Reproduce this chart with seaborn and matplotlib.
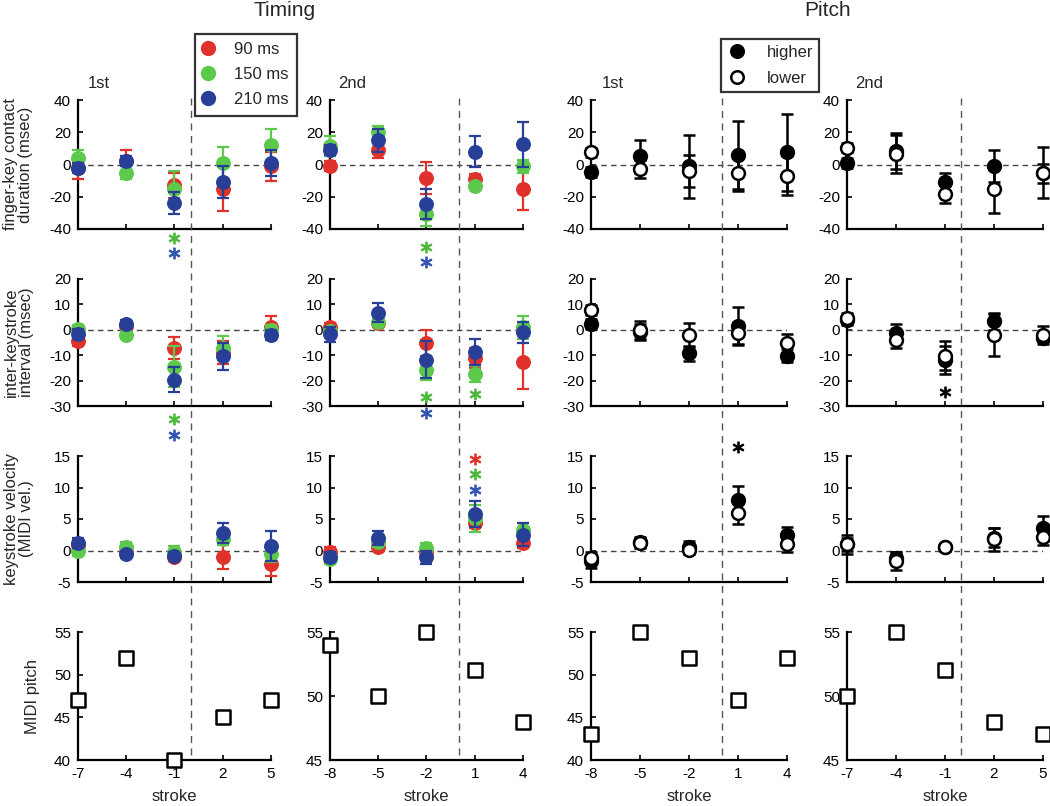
import matplotlib
matplotlib.use("Agg")
import matplotlib.pyplot as plt
import seaborn as sns
from matplotlib.lines import Line2D
from matplotlib.transforms import blended_transform_factory

# ---------------- data ----------------
strokes_t1 = [-7, -4, -1, 2, 5]
strokes_t2 = [-8, -5, -2, 1, 4]
strokes_p1 = [-8, -5, -2, 1, 4]
strokes_p2 = [-7, -4, -1, 2, 5]

timing_conditions = ["90 ms", "150 ms", "210 ms"]
pitch_conditions = ["higher", "lower"]

# finger-key contact duration (msec)
dur_t1 = {"90 ms": [-2, 2, -13, -15, -1], "150 ms": [4, -5, -15, 1, 12], "210 ms": [-2, 2, -24, -11, 1]}
dur_t1_err = {"90 ms": [7, 7, 8, 14, 9], "150 ms": [5, 4, 11, 10, 10], "210 ms": [3, 3, 7, 10, 8]}
dur_t2 = {"90 ms": [-1, 9, -8.5, -9, -15], "150 ms": [11.5, 20, -31, -13.5, -1], "210 ms": [9, 15, -24.5, 8, 12.5]}
dur_t2_err = {"90 ms": [3, 5, 10, 3, 13], "150 ms": [6, 4, 7, 2, 4], "210 ms": [3, 7, 9, 9.5, 14]}
dur_p1 = {"higher": [-4.5, 5, -1, 6, 7.5], "lower": [7.5, -3, -4, -5.5, -7]}
dur_p1_err = {"higher": [3, 10, 19.5, 21, 24], "lower": [3, 5.5, 10, 11, 12]}
dur_p2 = {"higher": [1, 8.5, -11, -1, -5], "lower": [10.5, 6.5, -18, -15, -5.5]}
dur_p2_err = {"higher": [3, 11, 6, 10, 16], "lower": [3, 12, 6, 15, 6]}

# inter-keystroke interval (msec)
ioi_t1 = {"90 ms": [-4.5, 1.5, -7, -9, 1], "150 ms": [0.5, -2.2, -14.5, -7.2, 0], "210 ms": [-1.6, 2.3, -19.6, -10.5, -2.2]}
ioi_t1_err = {"90 ms": [2, 1.5, 4.3, 4.5, 4.6], "150 ms": [1.5, 1.5, 8, 4.7, 2], "210 ms": [2, 1.5, 5, 5.5, 2]}
ioi_t2 = {"90 ms": [1, 2.8, -5.2, -11, -12.5], "150 ms": [-0.5, 3.2, -15.7, -17.4, 1], "210 ms": [-1.8, 6.8, -11.7, -8.8, -1]}
ioi_t2_err = {"90 ms": [1.5, 1.5, 5.2, 4, 11], "150 ms": [1.5, 1.5, 4, 3, 4.5], "210 ms": [3, 3.6, 7.2, 5, 4]}
ioi_p1 = {"higher": [2.3, -0.9, -9.2, 1.6, -10.2], "lower": [7.8, -0.2, -2, -1.4, -5.3]}
ioi_p1_err = {"higher": [2, 3, 3, 7.3, 2.6], "lower": [2, 3.5, 4.7, 4.4, 3.7]}
ioi_p2 = {"higher": [4, -1.4, -12, 3.3, -3.1], "lower": [4.6, -4, -10.2, -2.2, -2]}
ioi_p2_err = {"higher": [2, 3.6, 5.5, 3.3, 1.5], "lower": [2, 3, 5.6, 8.3, 3.6]}

# keystroke velocity (MIDI vel.)
vel_t1 = {"90 ms": [0.8, -0.3, -1.1, -1.1, -2.2], "150 ms": [0, 0.6, -0.2, 1.8, -0.5], "210 ms": [1.2, -0.6, -0.9, 2.8, 0.7]}
vel_t1_err = {"90 ms": [0.8, 0.8, 0.6, 1.9, 1.8], "150 ms": [0.8, 0.8, 0.9, 1.0, 1.4], "210 ms": [0.8, 0.6, 0.6, 1.6, 2.4]}
vel_t2 = {"90 ms": [-0.2, 0.5, -0.3, 4.3, 1.2], "150 ms": [-1.4, 1.4, 0.4, 5.1, 3.3], "210 ms": [-1.1, 2.0, -1.1, 5.8, 2.5]}
vel_t2_err = {"90 ms": [0.8, 0.6, 0.8, 0.8, 0.8], "150 ms": [0.8, 0.8, 0.8, 2.2, 1.0], "210 ms": [0.8, 1.1, 1.0, 2.1, 1.8]}
vel_p1 = {"higher": [-1.7, 1.3, 0.6, 8, 2.5], "lower": [-1.2, 1.2, 0.1, 5.9, 1.1]}
vel_p1_err = {"higher": [1, 0.8, 0.9, 2.2, 1.2], "lower": [1, 0.8, 0.6, 1.7, 1.4]}
vel_p2 = {"higher": [1, -1.2, 0.6, 2.0, 3.5], "lower": [1, -1.7, 0.5, 1.8, 2.1]}
vel_p2_err = {"higher": [1.5, 1, 0.5, 1.5, 2], "lower": [1, 1.4, 0.5, 1.8, 1.2]}

# MIDI pitch
pitch_t1 = [47, 52, 40, 45, 47]
pitch_t2 = [54, 50, 55, 52, 48]
pitch_p1 = [43, 55, 52, 47, 52]
pitch_p2 = [50, 55, 52, 48, 47]

# significance marks: (row, col, stroke, y, condition)
signif = [
    (0, 0, -1, -45.5, "150 ms"), (0, 0, -1, -55, "210 ms"),
    (0, 1, -2, -51, "150 ms"), (0, 1, -2, -60.5, "210 ms"),
    (1, 0, -1, -35, "150 ms"), (1, 0, -1, -41.5, "210 ms"),
    (1, 1, -2, -26.6, "150 ms"), (1, 1, -2, -32.6, "210 ms"),
    (1, 1, 1, -25.3, "150 ms"), (1, 3, -1, -24.6, "pitch"),
    (2, 1, 1, 14.5, "90 ms"), (2, 1, 1, 12.1, "150 ms"), (2, 1, 1, 9.6, "210 ms"),
    (2, 2, 1, 16.5, "pitch"),
]

row_labels = ["finger-key contact\nduration (msec)", "inter-keystroke\ninterval (msec)",
              "keystroke velocity\n(MIDI vel.)", "MIDI pitch"]
col_titles = ["1st", "2nd", "1st", "2nd"]

# ---------------- style ----------------
sns.set_theme(style="ticks")
plt.rcParams['font.family'] = ['Liberation Sans', 'DejaVu Sans']
plt.rcParams['axes.unicode_minus'] = False
plt.rcParams['axes.facecolor'] = 'none'

timing_colors = {"90 ms": "#E0322A", "150 ms": "#5DC94C", "210 ms": "#283F98"}
star_colors = {"90 ms": "#E0322A", "150 ms": "#4CB83C", "210 ms": "#3355B0", "pitch": "black"}

W, H = 1050, 806
fig = plt.figure(figsize=(W / 100, H / 100), dpi=100)

col_px = [(78, 271), (330, 523), (591, 787), (847, 1043)]
row_px = [(100, 229), (279, 406), (456, 582), (632, 760)]

strokes_cols = [strokes_t1, strokes_t2, strokes_p1, strokes_p2]
means = [[dur_t1, dur_t2, dur_p1, dur_p2],
         [ioi_t1, ioi_t2, ioi_p1, ioi_p2],
         [vel_t1, vel_t2, vel_p1, vel_p2]]
errs = [[dur_t1_err, dur_t2_err, dur_p1_err, dur_p2_err],
        [ioi_t1_err, ioi_t2_err, ioi_p1_err, ioi_p2_err],
        [vel_t1_err, vel_t2_err, vel_p1_err, vel_p2_err]]
pitches = [pitch_t1, pitch_t2, pitch_p1, pitch_p2]

ylims = [(-40, 40), (-30, 20), (-5, 15)]
yticks = [[-40, -20, 0, 20, 40], [-30, -20, -10, 0, 10, 20], [-5, 0, 5, 10, 15]]
pitch_lims = [(40, 55), (45, 55), (40, 55), (45, 55)]

axes = [[None] * 4 for _ in range(4)]
for r, (yt, yb) in enumerate(row_px):
    for c, (xl, xr) in enumerate(col_px):
        ax = fig.add_axes([xl / W, 1 - yb / H, (xr - xl) / W, (yb - yt) / H])
        axes[r][c] = ax
        strokes = strokes_cols[c]
        ax.set_xlim(strokes[0], strokes[-1])
        ax.set_xticks(strokes)
        if r < 3:
            ax.set_ylim(*ylims[r])
            ax.set_yticks(yticks[r])
            ax.axhline(0, color='#444444', lw=1.0, ls=(0, (4, 3)), zorder=1)
            m = means[r][c]
            e = errs[r][c]
            if c < 2:
                for z, cond in enumerate(timing_conditions):
                    col = timing_colors[cond]
                    ax.errorbar(strokes, m[cond], yerr=e[cond], fmt='none', ecolor=col,
                                elinewidth=1.6, capsize=4, capthick=1.6, zorder=3 + 2 * z, clip_on=False)
                    sns.scatterplot(x=strokes, y=m[cond], color=col, edgecolor=col, linewidth=1,
                                    s=95, ax=ax, zorder=4 + 2 * z, clip_on=False, legend=False)
            else:
                for z, cond in enumerate(pitch_conditions):
                    face = 'black' if cond == 'higher' else 'white'
                    ax.errorbar(strokes, m[cond], yerr=e[cond], fmt='none', ecolor='black',
                                elinewidth=1.8, capsize=4, capthick=1.8, zorder=3 + 2 * z, clip_on=False)
                    sns.scatterplot(x=strokes, y=m[cond], color=face, edgecolor='black', linewidth=1.8,
                                    s=85, ax=ax, zorder=4 + 2 * z, clip_on=False, legend=False)
            ax.tick_params(labelbottom=False)
        else:
            ax.set_ylim(*pitch_lims[c])
            ax.set_yticks(list(range(pitch_lims[c][0], pitch_lims[c][1] + 1, 5)))
            sns.scatterplot(x=strokes, y=pitches[c], marker='s', color='white', edgecolor='black',
                            linewidth=1.8, s=100, ax=ax, zorder=4, clip_on=False, legend=False)
            ax.set_xticklabels([str(s) for s in strokes])
            ax.set_xlabel("stroke", fontsize=12, labelpad=6)
        sns.despine(ax=ax)
        for sp in ("left", "bottom"):
            ax.spines[sp].set_linewidth(1.6)
            ax.spines[sp].set_color("black")
        ax.tick_params(direction='in', length=3.5, width=1.2, labelsize=11, pad=5, colors='black')
        ax.set_ylabel("")

# significance asterisks
for r, c, s, y, cond in signif:
    ax = axes[r][c]
    sns.scatterplot(x=[s], y=[y], marker='$*$', color=star_colors[cond], edgecolor=star_colors[cond],
                    linewidth=0.9, s=60, ax=ax, zorder=10, clip_on=False, legend=False)

# vertical dashed line at stroke 0 spanning all rows
for c in range(4):
    ax = axes[0][c]
    tr = blended_transform_factory(ax.transData, fig.transFigure)
    fig.add_artist(Line2D([0, 0], [1 - 98 / H, 1 - 760 / H], transform=tr,
                          color='#555555', lw=1.0, ls=(0, (5, 4))))

# row labels
label_x = [18, 19, 19, 33]
for r in range(4):
    yc = (row_px[r][0] + row_px[r][1]) / 2
    fig.text(label_x[r] / W, 1 - yc / H, row_labels[r], rotation=90, ha='center', va='center',
             multialignment='center', fontsize=12, linespacing=1.05)

# column titles
title_x = [99, 352, 613, 869]
for c in range(4):
    fig.text(title_x[c] / W, 1 - 84 / H, col_titles[c], ha='center', va='center', fontsize=12)

fig.text(285 / W, 1 - 11 / H, "Timing", ha='center', va='center', fontsize=15)
fig.text(828 / W, 1 - 11 / H, "Pitch", ha='center', va='center', fontsize=15)

# legends
t_handles = [Line2D([], [], ls='none', marker='o', markersize=10, color=timing_colors[k],
                    markeredgecolor=timing_colors[k]) for k in timing_conditions]
leg1 = fig.legend(t_handles, timing_conditions, loc='upper left', bbox_to_anchor=(195 / W, 1 - 34 / H),
                  borderaxespad=0, frameon=True, fancybox=False, fontsize=12, borderpad=0.5,
                  handlelength=0.6, handletextpad=1.25, labelspacing=0.6)
leg1.get_frame().set_edgecolor('black')
leg1.get_frame().set_linewidth(1.6)

p_handles = [Line2D([], [], ls='none', marker='o', markersize=9, markerfacecolor=f,
                    markeredgecolor='black', markeredgewidth=1.8) for f in ('black', 'white')]
leg2 = fig.legend(p_handles, pitch_conditions, loc='upper left', bbox_to_anchor=(721 / W, 1 - 39 / H),
                  borderaxespad=0, frameon=True, fancybox=False, fontsize=12, borderpad=0.35,
                  handlelength=1.2, handletextpad=1.2, labelspacing=0.65)
leg2.get_frame().set_edgecolor('black')
leg2.get_frame().set_linewidth(1.6)

fig.savefig("out.png", dpi=100)
